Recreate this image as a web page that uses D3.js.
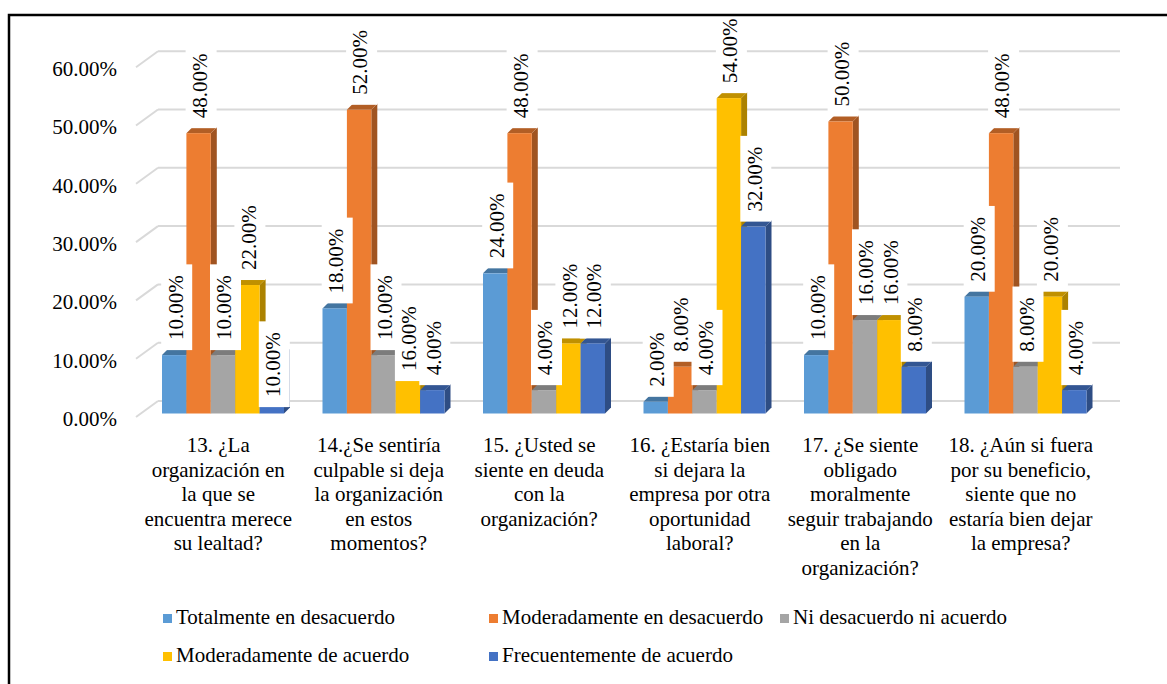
<!DOCTYPE html>
<html>
<head>
<meta charset="UTF-8">
<script src="https://d3js.org/d3.v7.min.js"></script>
</head>
<body style="margin:0">
  <svg id="chart" width="1167" height="684"></svg>
  <script>
    // question labels, already split in lines like the original
    const categories = [
      ["13. ¿La", "organización en", "la que se", "encuentra merece", "su lealtad?"],
      ["14.¿Se sentiría", "culpable si deja", "la organización", "en estos", "momentos?"],
      ["15. ¿Usted se", "siente en deuda", "con la", "organización?"],
      ["16. ¿Estaría bien", "si dejara la", "empresa por otra", "oportunidad", "laboral?"],
      ["17. ¿Se siente", "obligado", "moralmente", "seguir trabajando", "en la", "organización?"],
      ["18. ¿Aún si fuera", "por su beneficio,", "siente que no", "estaría bien dejar", "la empresa?"]
    ];
    const seriesNames = ["Totalmente en desacuerdo", "Moderadamente en desacuerdo", "Ni desacuerdo ni acuerdo",
                         "Moderadamente de acuerdo", "Frecuentemente de acuerdo"];
    const seriesColors = ["#5B9BD5", "#ED7D31", "#A5A5A5", "#FFC000", "#4472C4"];

    const totalDesacuerdo = [0.10, 0.18, 0.24, 0.02, 0.10, 0.20];
    const modDesacuerdo   = [0.48, 0.52, 0.48, 0.08, 0.50, 0.48];
    const niNi            = [0.10, 0.10, 0.04, 0.04, 0.16, 0.08];
    const modAcuerdo      = [0.22, 0.16, 0.12, 0.54, 0.16, 0.20];
    const frecAcuerdo     = [0.10, 0.04, 0.12, 0.32, 0.08, 0.04];
    const values = [totalDesacuerdo, modDesacuerdo, niNi, modAcuerdo, frecAcuerdo];

    const yTicks = [0, 0.1, 0.2, 0.3, 0.4, 0.5, 0.6];

    // two labels were dragged down in the original (category-series)
    const labelDrop = { "0-4": 57, "1-3": 66 };

    const svg = d3.select('#chart');
    const fmt = d3.format('.2%');
    const fs = '21px';
    const depth = 6;       // bar 3d depth
    const wallDx = 22, wallDy = 16;

    const x0 = d3.scaleBand().domain(d3.range(categories.length)).range([138, 1101]);
    const barW = 24.4;
    const barStart = 24;

    const yBar = d3.scaleLinear().domain([0, 0.6]).range([413.5, 413.5 - 0.6 * 584]);
    const yWall = d3.scaleLinear().domain([0, 0.6]).range([401, 401 - 0.6 * 583]);

    // gridlines on the back wall plus the side wall slant
    const grid = svg.append('g');
    yTicks.forEach(t => {
      const y = yWall(t);
      grid.append('line').attr('x1', 158).attr('x2', 1120).attr('y1', y).attr('y2', y)
        .attr('stroke', '#d9d9d9').attr('stroke-width', 2);
      grid.append('line').attr('x1', 158 - wallDx).attr('y1', y + wallDy).attr('x2', 158).attr('y2', y)
        .attr('stroke', '#d9d9d9').attr('stroke-width', 2);
    });

    // y axis labels
    svg.append('g').selectAll('text').data(yTicks).enter().append('text')
      .attr('x', 117).attr('y', d => yWall(d) + wallDy + 4)
      .attr('text-anchor', 'end').attr('dominant-baseline', 'middle')
      .style('font-size', fs)
      .text(d => fmt(d));

    // bars
    const bars = svg.append('g');
    categories.forEach((c, ci) => {
      values.forEach((vals, si) => {
        const v = vals[ci];
        const x = x0(ci) + barStart + si * barW;
        const yt = yBar(v), yb = yBar(0);
        const col = d3.color(seriesColors[si]);
        const g = bars.append('g');
        g.append('path')
          .attr('d', `M${x + barW},${yt} L${x + barW + depth},${yt - depth} L${x + barW + depth},${yb - depth} L${x + barW},${yb} Z`)
          .attr('fill', col.darker(1.1));
        g.append('path')
          .attr('d', `M${x},${yt} L${x + depth},${yt - depth} L${x + barW + depth},${yt - depth} L${x + barW},${yt} Z`)
          .attr('fill', col.darker(0.8));
        g.append('rect').attr('x', x).attr('y', yt).attr('width', barW).attr('height', yb - yt)
          .attr('fill', col);
      });
    });

    // data labels with white boxes, drawn over the bars
    const labels = svg.append('g');
    categories.forEach((c, ci) => {
      values.forEach((vals, si) => {
        const v = vals[ci];
        const cx = x0(ci) + barStart + si * barW + barW / 2 + 1;
        const bottom = yBar(v) - 15 + (labelDrop[ci + '-' + si] || 0);
        const g = labels.append('g');
        const box = g.append('rect').attr('fill', '#fff');
        const t = g.append('text')
          .attr('transform', `translate(${cx},${bottom}) rotate(-90)`)
          .attr('dy', '0.35em')
          .style('font-size', fs)
          .text(fmt(v));
        const len = t.node().getComputedTextLength();
        box.attr('x', cx - 14).attr('width', 31)
          .attr('y', bottom - len - 11).attr('height', len + 21);
      });
    });

    // category labels
    const catG = svg.append('g');
    categories.forEach((lines, ci) => {
      const t = catG.append('text')
        .attr('text-anchor', 'middle')
        .style('font-size', fs);
      lines.forEach((ln, li) => {
        t.append('tspan').attr('x', x0(ci) + x0.bandwidth() / 2).attr('y', 452 + li * 24.5).text(ln);
      });
    });

    // legend
    const legendPos = [[163, 619], [489, 619], [780, 619], [163, 657], [489, 657]];
    const leg = svg.append('g');
    seriesNames.forEach((n, i) => {
      const [lx, ly] = legendPos[i];
      leg.append('rect').attr('x', lx).attr('y', ly - 5).attr('width', 9).attr('height', 9)
        .attr('fill', seriesColors[i]);
      leg.append('text').attr('x', lx + 13).attr('y', ly).attr('dominant-baseline', 'middle')
        .style('font-size', fs).text(n);
    });

    // outer frame
    svg.append('rect').attr('x', 9).attr('y', 15).attr('width', 1180).attr('height', 700)
      .attr('fill', 'none').attr('stroke', '#000').attr('stroke-width', 2.5);
  </script>
</body>
</html>
